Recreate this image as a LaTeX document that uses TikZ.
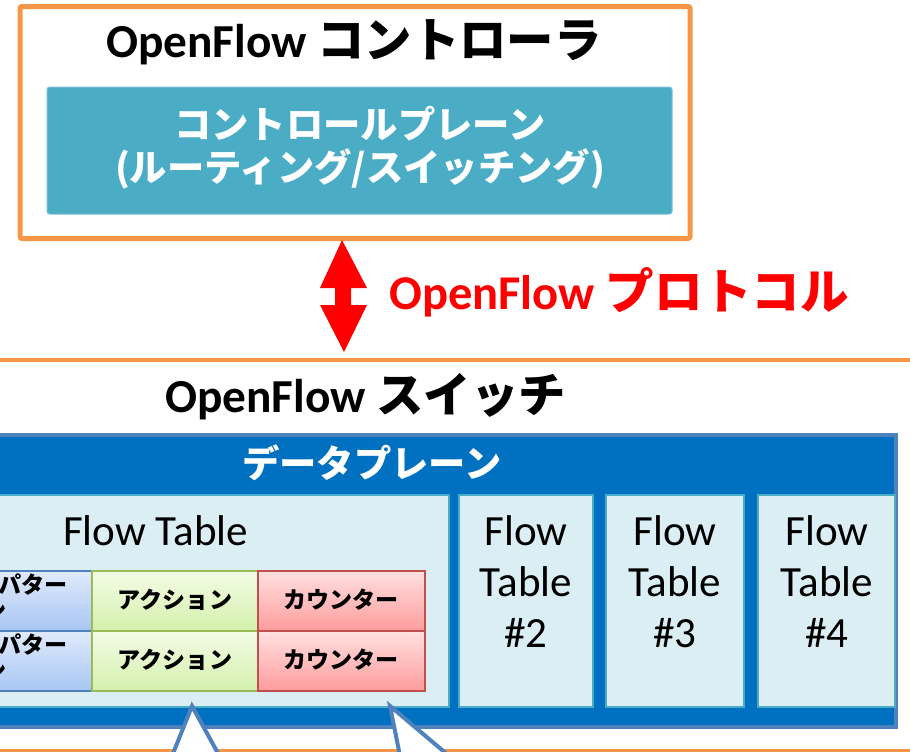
\documentclass[tikz,border=0pt]{standalone}
\usepackage{fontspec}
\setmainfont{Carlito}
\newfontfamily\jp{Noto Sans CJK JP}
\usetikzlibrary{fit}
\definecolor{orng}{HTML}{F79646}
\definecolor{protored}{HTML}{FF0000}
\definecolor{cpfill}{HTML}{4BACC6}
\definecolor{dpfill}{HTML}{0070C0}
\definecolor{dpline}{HTML}{4F81BD}
\definecolor{ftfill}{HTML}{DAEEF3}
\definecolor{ftline}{HTML}{4BACC6}
\definecolor{pattop}{HTML}{E0EAFC}
\definecolor{patbot}{HTML}{A8C6F3}
\definecolor{patline}{HTML}{4F81BD}
\definecolor{acttop}{HTML}{F3FCE6}
\definecolor{actbot}{HTML}{D4F0AC}
\definecolor{actline}{HTML}{9BBB59}
\definecolor{cnttop}{HTML}{FFE0E0}
\definecolor{cntbot}{HTML}{FF9C9C}
\definecolor{cntline}{HTML}{C0504D}
\definecolor{ptrline}{HTML}{4F81BD}
\begin{document}
\begin{tikzpicture}[x=0.75pt,y=-0.75pt,
  box/.style={inner sep=0pt, outer sep=0pt},
  title/.style={font=\fontsize{35.5}{42}\selectfont\bfseries, text=black, inner sep=0pt},
  cptext/.style={font=\jp\fontsize{28}{34}\selectfont\bfseries, text=white, inner sep=0pt},
  dptext/.style={font=\jp\fontsize{28}{34}\selectfont\bfseries, text=white, inner sep=0pt},
  fttext/.style={font=\fontsize{32.3}{38.25}\selectfont, text=black, inner sep=0pt, align=center},
  celltext/.style={font=\jp\fontsize{17.3}{20.25}\selectfont\bfseries, text=black, inner sep=0pt},
  ftbox/.style={box, fill=ftfill, draw=ftline, line width=1.5pt},
  patcell/.style={box, top color=pattop, bottom color=patbot, draw=patline, line width=1.5pt},
  actcell/.style={box, top color=acttop, bottom color=actbot, draw=actline, line width=1.5pt},
  cntcell/.style={box, top color=cnttop, bottom color=cntbot, draw=cntline, line width=1.5pt},
  pointer/.style={fill=white, draw=ptrline, line width=3pt, line join=miter}
]
\useasboundingbox (0,0) rectangle (910,751);
\clip (0,0) rectangle (910,751);

% controller
\node[box, fit={(20,6.5) (690,238.5)}, draw=orng, line width=3.75pt, rounded corners=1.5pt] (ctrl) {};
\node[box, fit={(47,87) (672,214)}, fill=cpfill, draw=cpfill!75!white, line width=0.75pt, rounded corners=2pt] (cplane) {};
\node[title, anchor=base west] (ctrltitle) at (106,57) {OpenFlow {\jp コントローラ}};
\node[cptext] (cp1) at (360,124) {コントロールプレーン};
\node[cptext] (cp2) at (360,169) {(ルーティング/スイッチング)};

% switch frame
\node[box, fit={(-10,359.5) (920,750.5)}, draw=orng, line width=3pt] (sw) {};
\node[title, anchor=base west] (swtitle) at (165,412) {OpenFlow {\jp スイッチ}};

% protocol arrow between controller and switch
\coordinate (atop) at (342,240);
\coordinate (abot) at (344,352);
\fill[protored] (atop) -- (367,288) -- (351,288) -- (351,305) -- (367,305) -- (abot)
  -- (320,305) -- (335,305) -- (335,288) -- (320,288) -- cycle;
\node[font=\fontsize{36.4}{43}\selectfont\bfseries, text=protored, inner sep=0pt, anchor=base west]
  (proto) at (389,309) {OpenFlow {\jp プロトコル}};

% data plane
\node[box, fit={(-20,435) (896,727)}, fill=dpfill, draw=dpline, line width=3pt] (dplane) {};
\node[dptext] (dptitle) at (372,463) {データプレーン};

% flow tables
\node[ftbox, fit={(-140,495) (449,707)}] (ft1) {};
\node[fttext, anchor=base] (ft1label) at (155.5,545) {Flow Table};
\node[ftbox, fit={(459,495) (593,707)}] (ft2) {};
\node[ftbox, fit={(606,495) (744,707)}] (ft3) {};
\node[ftbox, fit={(758,495) (895,707)}] (ft4) {};
% base anchor of a multi-line label sits on its last line
\node[fttext, anchor=base] (ft2label) at (526,647) {Flow\\Table\\\#2};
\node[fttext, anchor=base] (ft3label) at (675,647) {Flow\\Table\\\#3};
\node[fttext, anchor=base] (ft4label) at (827,647) {Flow\\Table\\\#4};

% flow entries
\node[patcell, fit={(-74,571) (92,631)}] (pat1) {};
\node[actcell, fit={(92,571) (258,631)}] (act1) {};
\node[cntcell, fit={(258,571) (425,631)}] (cnt1) {};
\node[patcell, fit={(-74,631) (92,691)}] (pat2) {};
\node[actcell, fit={(92,631) (258,691)}] (act2) {};
\node[cntcell, fit={(258,631) (425,691)}] (cnt2) {};

\node[celltext, anchor=east] (pat1a) at (68,585) {パター};
\node[celltext, anchor=east] (pat1b) at (7,611) {ン};
\node[celltext, anchor=east] (pat2a) at (68,645) {パター};
\node[celltext, anchor=east] (pat2b) at (7,671) {ン};
\node[celltext] (act1t) at (175,600) {アクション};
\node[celltext] (cnt1t) at (341,600) {カウンター};
\node[celltext] (act2t) at (175,660) {アクション};
\node[celltext] (cnt2t) at (341,660) {カウンター};

% callout pointers
\coordinate (ptr1) at (192,706);
\coordinate (ptr2) at (390,706);
\filldraw[pointer] ([shift={(-24,60)}]ptr1) -- (ptr1) -- ([shift={(33,60)}]ptr1);
\filldraw[pointer] ([shift={(12,60)}]ptr2) -- (ptr2) -- ([shift={(71,60)}]ptr2);
\end{tikzpicture}
\end{document}
